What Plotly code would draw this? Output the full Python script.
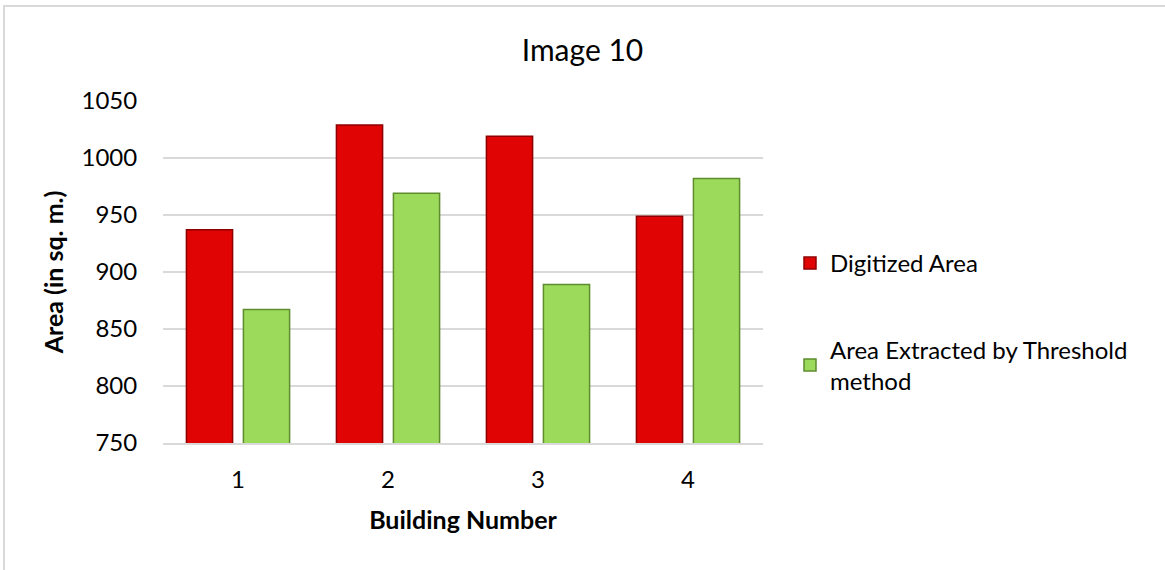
import plotly.graph_objects as go

categories = ["1", "2", "3", "4"]
digitized = [937, 1029, 1019, 949]
threshold = [867, 969, 889, 982]
series_names = ["Digitized Area", "Area Extracted by Threshold<br>method"]
y_ticks = [750, 800, 850, 900, 950, 1000, 1050]

FONT = "Lato, 'Open Sans', sans-serif"
W, H = 1165, 570
L, R, T, B = 163, 402, 101, 127
PW, PH = W - L - R, H - T - B

fig = go.Figure()
fig.add_trace(go.Bar(
    x=categories, y=digitized, name=series_names[0], legendgroup="a",
    marker=dict(color="#E00404", line=dict(color="#8E0000", width=1.5)),
))
fig.add_trace(go.Bar(
    x=categories, y=threshold, name=series_names[1], legendgroup="b",
    marker=dict(color="#9BDA5A", line=dict(color="#5E8C2E", width=1.5)),
))

# outer chart border (top and left visible, right/bottom run off the image)
fig.add_shape(type="rect", xref="paper", yref="paper",
              x0=(4 - L) / PW, x1=(W + 10 - L) / PW,
              y0=-(H + 10 - T - PH) / PH, y1=1 + (T - 6) / PH,
              line=dict(color="#D9D9D9", width=2), layer="below")

fig.update_layout(
    width=W, height=H,
    margin=dict(l=L, r=R, t=T, b=B),
    paper_bgcolor="white", plot_bgcolor="white",
    barmode="group", bargap=0.24, bargroupgap=0.19,
    title=dict(text="Image 10", x=0.5, xref="container", xanchor="center",
               y=1 - 50 / H, yanchor="middle",
               font=dict(family=FONT, size=30, color="#000000")),
    font=dict(family=FONT, color="#000000"),
    xaxis=dict(
        title=dict(text="<b>Building Number</b>", font=dict(size=25), standoff=20),
        tickfont=dict(size=24), showgrid=False,
        showline=True, linecolor="#D9D9D9", linewidth=1.5,
        ticks="outside", ticklen=14, tickcolor="white",
    ),
    yaxis=dict(
        title=dict(text="<b>Area (in sq. m.)</b>", font=dict(size=25), standoff=10),
        range=[750, 1050], tickvals=y_ticks, tickfont=dict(size=24),
        showgrid=True, gridcolor="#D9D9D9", gridwidth=1.5,
        zeroline=False, showline=False, ticks="outside", ticklen=20,
        tickcolor="white",
    ),
    legend=dict(
        x=(790 - L) / PW, xanchor="left", y=1 - (322 - T) / PH, yanchor="middle",
        font=dict(family=FONT, size=24), tracegroupgap=52,
        itemwidth=30, bgcolor="rgba(0,0,0,0)",
    ),
    showlegend=True,
)

fig.write_html("out.html")
